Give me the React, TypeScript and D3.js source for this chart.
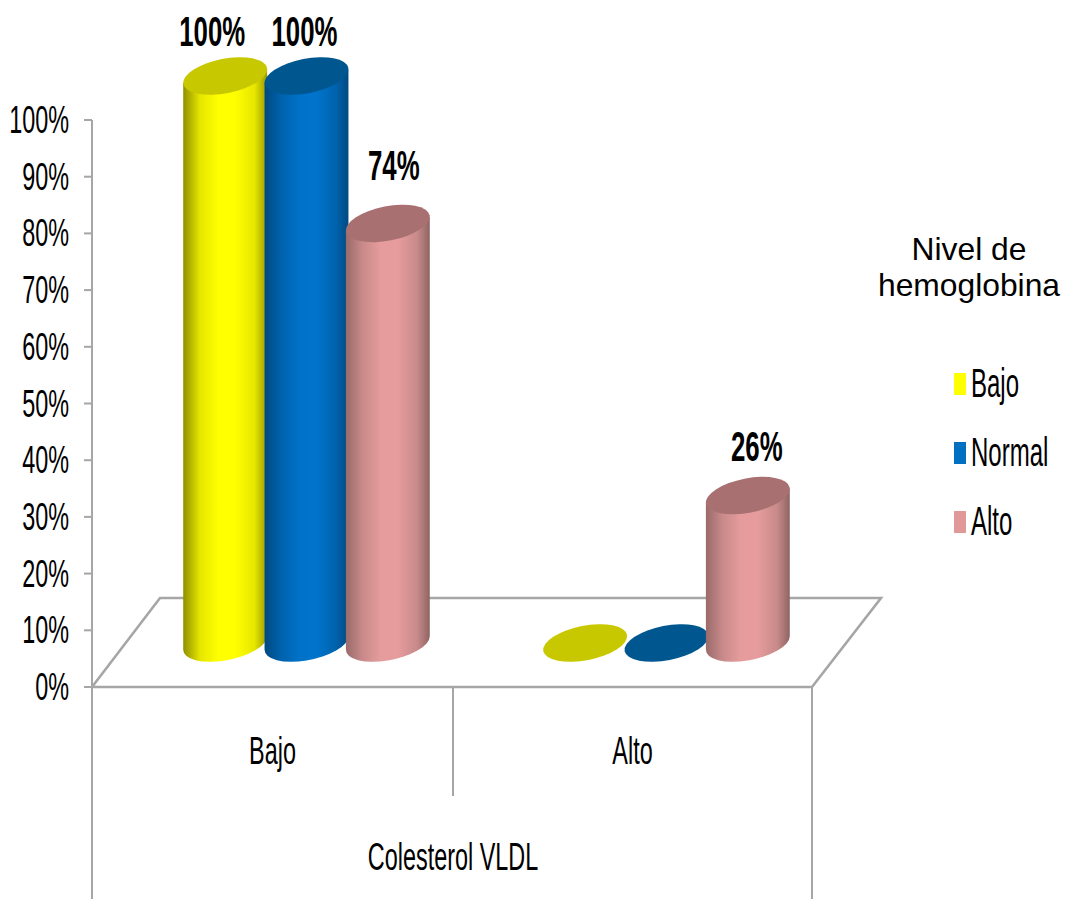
import React, { useEffect, useRef } from "react";
import * as d3 from "d3";

// Percentages of each hemoglobin level within every VLDL cholesterol group
const groups = ["Bajo", "Alto"];
const seriesNames = ["Bajo", "Normal", "Alto"];
const bajoValues = [100, 0];
const normalValues = [100, 0];
const altoValues = [74, 26];
const seriesValues = [bajoValues, normalValues, altoValues];
const yTicks = [0, 10, 20, 30, 40, 50, 60, 70, 80, 90, 100];

const sideStops = [
  ["#8f8f00", "#e6e600", "#ffff00", "#ffff00", "#e6e600", "#9a9a00"],
  ["#004a80", "#0062ad", "#0072c8", "#0074cc", "#0062ad", "#004a80"],
  ["#9a6a6a", "#c98a8a", "#e69c9c", "#e69c9c", "#c88a8a", "#8f6464"],
];
const capColors = ["#c8c800", "#00578f", "#a87070"];
const swatchColors = ["#ffff00", "#0070c0", "#e09898"];

const W = 1071;
const H = 899;
const axisLeft = 92;
const floorRight = 812;
const depthX = 69;
const depthY = 89;
const baseY = 687;
const topY = 120;
const barBase = 643;
const grey = "#a6a6a6";
const squeeze = 0.6;
const sans = "'Liberation Sans', Arial, sans-serif";

// Tilted ellipse used for the cylinder ends
const ellA = 42.6;
const ellB = 17.2;
const ellTilt = -11;
const tiltRad = (ellTilt * Math.PI) / 180;
const extX = Math.sqrt((ellA * Math.cos(tiltRad)) ** 2 + (ellB * Math.sin(tiltRad)) ** 2);
const extY = ((ellA * ellA - ellB * ellB) * Math.sin(-tiltRad) * Math.cos(tiltRad)) / extX;

export default function App() {
  const ref = useRef<SVGSVGElement>(null);

  useEffect(() => {
    const svg = d3.select(ref.current);
    svg.selectAll("*").remove();

    const y = d3.scaleLinear().domain([0, 100]).range([baseY, topY]);
    const height = d3.scaleLinear().domain([0, 100]).range([0, baseY - topY]);
    const xGroup = d3
      .scaleBand()
      .domain(groups)
      .range([axisLeft + depthX / 2, floorRight + depthX / 2]);
    const xSeries = d3.scaleBand().domain(seriesNames).range([-122, 122]);

    const defs = svg.append("defs");
    seriesNames.forEach((_, i) => {
      const g = defs.append("linearGradient").attr("id", `side${i}`);
      const offsets = [0, 0.2, 0.42, 0.62, 0.85, 1];
      sideStops[i].forEach((c, k) => {
        g.append("stop").attr("offset", offsets[k]).attr("stop-color", c);
      });
    });

    const squeezed = (
      parent: d3.Selection<any, unknown, null, undefined>,
      str: string,
      px: number,
      py: number,
      size: number,
      anchor: string,
      weight = "normal"
    ) =>
      parent
        .append("text")
        .attr("transform", `translate(${px},${py}) scale(${squeeze},1)`)
        .attr("text-anchor", anchor)
        .attr("font-family", sans)
        .attr("font-size", size)
        .attr("font-weight", weight)
        .attr("fill", "#000")
        .text(str);

    // Floor of the 3D plot, and the axes
    const line = d3.line();
    const frame = svg
      .append("g")
      .attr("fill", "none")
      .attr("stroke", grey)
      .attr("stroke-width", 2);
    frame
      .append("path")
      .attr("stroke-width", 2.6)
      .attr(
        "d",
        line([
          [axisLeft, baseY],
          [axisLeft + depthX - 1, baseY - depthY],
          [floorRight + depthX, baseY - depthY],
          [floorRight, baseY],
          [axisLeft, baseY],
        ])
      );
    frame.append("path").attr("d", line([[axisLeft, topY], [axisLeft, H]]));
    frame.append("path").attr("d", line([[floorRight, baseY], [floorRight, H]]));
    frame
      .append("path")
      .attr("d", line([[(axisLeft + floorRight) / 2 + 1, baseY], [(axisLeft + floorRight) / 2 + 1, 796]]));

    yTicks.forEach((t) => {
      frame.append("path").attr("d", line([[axisLeft - 8, y(t)], [axisLeft, y(t)]]));
      squeezed(svg, `${t}%`, 69, y(t) + 13, 39, "end");
    });

    // Cylinders, left to right so that each one overlaps its left neighbour
    groups.forEach((group, gi) => {
      seriesNames.forEach((name, si) => {
        const v = seriesValues[si][gi];
        const cx = xGroup(group)! + xGroup.bandwidth() / 2 + xSeries(name)! + xSeries.bandwidth() / 2;
        const top = barBase - height(v);
        const g = svg.append("g");
        if (v > 0) {
          g.append("path")
            .attr(
              "d",
              `M${cx - extX},${top + extY}L${cx - extX},${barBase + extY}` +
                `A${ellA},${ellB} ${ellTilt} 0 0 ${cx + extX},${barBase - extY}` +
                `L${cx + extX},${top - extY}Z`
            )
            .attr("fill", `url(#side${si})`);
        }
        g.append("ellipse")
          .attr("rx", ellA)
          .attr("ry", ellB)
          .attr("transform", `translate(${cx},${top}) rotate(${ellTilt})`)
          .attr("fill", capColors[si]);
      });
    });

    // Value labels above the non-empty cylinders
    groups.forEach((group, gi) => {
      seriesNames.forEach((name, si) => {
        const v = seriesValues[si][gi];
        if (v === 0) return;
        const cx = xGroup(group)! + xGroup.bandwidth() / 2 + xSeries(name)! + xSeries.bandwidth() / 2;
        const lift = v === 100 ? 30 : v > 50 ? 43 : 35;
        const shift = v === 100 ? -2 - (si === 0 ? 11 : 0) : v > 50 ? 6 : 9;
        squeezed(svg, `${v}%`, cx + shift, barBase - height(v) - lift, 43, "middle", "bold");
      });
    });

    // Category labels and the axis title
    groups.forEach((group) => {
      squeezed(svg, group, xGroup(group)! + xGroup.bandwidth() / 2 - 34, 764, 39, "middle");
    });
    squeezed(svg, "Colesterol VLDL", 453, 870, 39, "middle");

    // Legend
    svg
      .append("g")
      .attr("font-family", sans)
      .attr("font-size", 31.8)
      .attr("text-anchor", "middle")
      .selectAll("text")
      .data(["Nivel de", "hemoglobina"])
      .join("text")
      .attr("x", 969)
      .attr("y", (_, i) => 260 + i * 36)
      .text((d) => d);

    const legendY = d3.scalePoint().domain(seriesNames).range([384, 522]);
    seriesNames.forEach((name, i) => {
      svg
        .append("rect")
        .attr("x", 954)
        .attr("y", legendY(name)! - 11)
        .attr("width", 12)
        .attr("height", 22)
        .attr("fill", swatchColors[i]);
      squeezed(svg, name, 971, legendY(name)! + 13, 40, "start");
    });
  }, []);

  return (
    <svg
      ref={ref}
      width={W}
      height={H}
      viewBox={`0 0 ${W} ${H}`}
      style={{ position: "absolute", left: 0, top: 0, background: "#fff" }}
    />
  );
}
